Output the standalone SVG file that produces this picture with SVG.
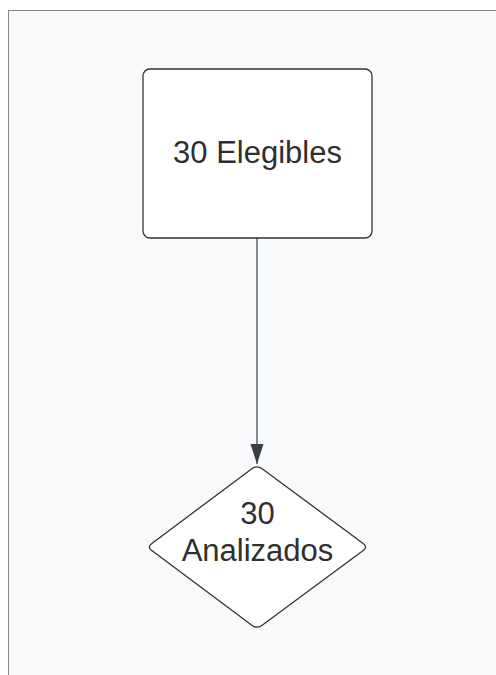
<svg xmlns="http://www.w3.org/2000/svg" width="496" height="675" viewBox="0 0 496 675">
  <style>
    .node { fill: #ffffff; stroke: #333333; stroke-width: 1.3; }
    .label { font-family: "Liberation Sans", Arial, sans-serif; font-size: 31px; fill: #2f2f2f; text-anchor: middle; }
    .conn { stroke: #3a3d44; stroke-width: 1.2; fill: none; }
  </style>
  <defs>
    <marker id="arrow" viewBox="0 0 20 14" refX="20" refY="7" markerWidth="20" markerHeight="14" markerUnits="userSpaceOnUse" orient="auto">
      <path d="M0,0.5 L20,7 L0,13.5 Z" fill="#3a3d44"/>
    </marker>
  </defs>
  <rect x="0" y="0" width="496" height="675" fill="#ffffff"/>
  <rect x="8.5" y="10.5" width="500" height="680" fill="#f8f9fb" stroke="#8a8a8a" stroke-width="1"/>
  <g id="connectors">
    <line class="conn" x1="257" y1="238" x2="257" y2="464" marker-end="url(#arrow)"/>
  </g>
  <g id="node-elegibles">
    <rect class="node" x="143" y="69" width="229" height="169" rx="7" ry="7"/>
    <text class="label" x="257.5" y="163">30 Elegibles</text>
  </g>
  <g id="node-analizados">
    <path class="node" d="M252.2,468.6 Q257,465 261.8,468.6 L363.2,543.4 Q368,547 363.2,550.6 L261.8,625.4 Q257,629 252.2,625.4 L151.8,550.6 Q147,547 151.8,543.4 Z"/>
    <text class="label" x="257.5" y="524">30</text>
    <text class="label" x="257.5" y="561">Analizados</text>
  </g>
</svg>
